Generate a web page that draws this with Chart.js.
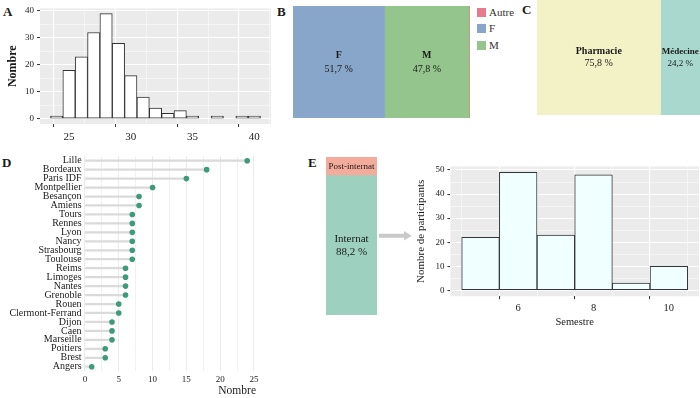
<!DOCTYPE html>
<html>
<head>
<meta charset="utf-8">
<script src="https://cdn.jsdelivr.net/npm/chart.js@4.4.1/dist/chart.umd.min.js"></script>
<style>
  body { margin: 0; background: #fff; width: 700px; height: 398px; position: relative; overflow: hidden;
         font-family: "Liberation Serif", "Times New Roman", serif; color: #1a1a1a; }
  canvas, .box { position: absolute; }
  .tag { position: absolute; font-weight: bold; font-size: 13px; line-height: 1; }
  .leg { position: absolute; left: 477px; font-size: 11px; font-weight: 400; line-height: 9px; color: #333; }
  .leg i { display: inline-block; width: 9px; height: 9px; vertical-align: top; margin-right: 3px; }
</style>
</head>
<body>
<div class="tag" style="left:3px;top:5px">A</div>
<div class="tag" style="left:277px;top:5px">B</div>
<div class="tag" style="left:522px;top:3px">C</div>
<div class="tag" style="left:2px;top:156px">D</div>
<div class="tag" style="left:308px;top:156px">E</div>

<canvas id="cA" width="275" height="142" style="left:0;top:0"></canvas>
<canvas id="cB" width="177" height="112" style="left:293px;top:6px"></canvas>
<div id="legB"></div>
<canvas id="cC" width="163" height="115" style="left:537px;top:0"></canvas>
<canvas id="cD" width="270" height="253" style="left:0;top:145px"></canvas>
<canvas id="cE1" width="51" height="158" style="left:326px;top:157px"></canvas>
<svg class="box" style="left:378px;top:229px" width="36" height="14">
  <path d="M1 4.7 H26 V2 L33.7 6.7 L26 11.4 V8.7 H1 Z" fill="#c9c9c9"/>
</svg>
<canvas id="cE2" width="285" height="182" style="left:415px;top:150px"></canvas>

<script>
// A : âge
const ageBins = [24, 25, 26, 27, 28, 29, 30, 31, 32, 33, 34, 35, 36, 37, 38, 39, 40];
const ageCounts = [1, 18, 23, 32, 39, 28, 16, 8, 4, 2, 3, 1, 0, 1, 0, 1, 1];
// B : sexe
const sexLabels = ['F', 'M', 'Autre'];
const sexPct = [51.7, 47.8, 0.5];
const sexColors = ['#87a6c9', '#93c58c', '#e87a8b'];
const sexLegend = ['Autre', 'F', 'M'];
// C : filière
const filiereLabels = ['Pharmacie', 'Médecine'];
const filierePct = [75.8, 24.2];
const filiereColors = ['#f3f1c6', '#a8d8ce'];
// D : villes
const villes = ['Lille', 'Bordeaux', 'Paris IDF', 'Montpellier', 'Besançon', 'Amiens', 'Tours', 'Rennes',
  'Lyon', 'Nancy', 'Strasbourg', 'Toulouse', 'Reims', 'Limoges', 'Nantes', 'Grenoble', 'Rouen',
  'Clermont-Ferrand', 'Dijon', 'Caen', 'Marseille', 'Poitiers', 'Brest', 'Angers'];
const villeCounts = [24, 18, 15, 10, 8, 8, 7, 7, 7, 7, 7, 7, 6, 6, 6, 6, 5, 5, 4, 4, 4, 3, 3, 1];
// E : statut et semestre
const statutLabels = ['Internat', 'Post-internat'];
const statutPct = [88.2, 11.8];
const statutColors = ['#9dd0bf', '#f3ac9b'];
const semestres = [5, 6, 7, 8, 9, 10];
const semestreCounts = [22, 49, 23, 48, 3, 10];

const serif = '"Liberation Serif", "Times New Roman", serif';
Chart.defaults.font.family = serif;
Chart.defaults.color = '#222';
Chart.defaults.animation = false;
Chart.defaults.plugins.legend.display = false;
Chart.defaults.plugins.tooltip.enabled = false;

const fmt = v => v.toFixed(1).replace('.', ',') + ' %';
const tv = c => (c.tick ? c.tick.value : NaN);

// fond gris du panneau
const panelBg = {
  id: 'panelBg',
  beforeDraw(chart, args, opts) {
    if (!opts.color) return;
    const { ctx, chartArea: a } = chart;
    ctx.save();
    ctx.fillStyle = opts.color;
    ctx.fillRect(a.left, a.top, a.right - a.left, a.bottom - a.top);
    ctx.restore();
  }
};

// texte centré dans les rectangles
const boxText = {
  id: 'boxText',
  afterDatasetsDraw(chart) {
    const ctx = chart.ctx;
    chart.data.datasets.forEach((ds, i) => {
      if (!ds.lines) return;
      const p = chart.getDatasetMeta(i).data[0].getCenterPoint();
      ctx.save();
      ctx.fillStyle = '#1a1a1a';
      ctx.textAlign = 'center';
      ctx.textBaseline = 'middle';
      ds.lines.forEach((t, k) => {
        ctx.font = (k === 0 && ds.bold ? 'bold ' : '') + ds.size + 'px ' + serif;
        ctx.fillText(t, p.x, p.y + (k - (ds.lines.length - 1) / 2) * ds.gap);
      });
      ctx.restore();
    });
  }
};
Chart.register(panelBg, boxText);

function ggGrid(isMajor) {
  return {
    color: '#fff',
    lineWidth: c => isMajor(tv(c)) ? 1.1 : 0.5,
    tickLength: 3,
    tickColor: c => isMajor(tv(c)) ? '#333' : 'rgba(0,0,0,0)',
    tickWidth: 1
  };
}

// A
new Chart(document.getElementById('cA'), {
  type: 'bar',
  data: {
    datasets: [{
      data: ageBins.map((x, i) => ({ x: x, y: ageCounts[i] })),
      backgroundColor: '#fff', borderColor: '#333', borderWidth: 1, borderSkipped: false,
      barPercentage: 1, categoryPercentage: 1
    }]
  },
  options: {
    responsive: false,
    layout: { padding: { top: 5, right: 4, left: 6, bottom: 0 } },
    plugins: { panelBg: { color: '#ebebeb' } },
    scales: {
      x: {
        type: 'linear', min: 22.65, max: 41.35, offset: false,
        ticks: { stepSize: 2.5, includeBounds: false, autoSkip: false, maxRotation: 0, padding: 4,
          font: { size: 11 }, callback: v => v % 5 === 0 ? v : '' },
        grid: ggGrid(v => v % 5 === 0), border: { display: false },
        afterFit: s => { s.height = 18; }
      },
      y: {
        min: -1.95, max: 40.95,
        ticks: { stepSize: 5, includeBounds: false, autoSkip: false, padding: 3,
          font: { size: 9 }, callback: v => v % 10 === 0 ? v : '' },
        grid: ggGrid(v => v % 10 === 0), border: { display: false },
        title: { display: true, text: 'Nombre', font: { size: 12, weight: 'bold' }, padding: 0, color: '#1a1a1a' },
        afterFit: s => { s.width = 34; }
      }
    }
  }
});

// B et C : rectangles empilés
function boxChart(id, labels, values, colors, size, gap, bold) {
  new Chart(document.getElementById(id), {
    type: 'bar',
    data: {
      labels: [''],
      datasets: labels.map((l, i) => ({
        label: l, data: [values[i]], backgroundColor: colors[i],
        barPercentage: 1, categoryPercentage: 1,
        lines: values[i] > 2 ? [l, fmt(values[i])] : null,
        size: Array.isArray(size) ? size[i] : size, gap: gap, bold: bold
      }))
    },
    options: {
      indexAxis: 'y', responsive: false, layout: { padding: 0 },
      scales: {
        x: { stacked: true, min: 0, max: 100, display: false },
        y: { stacked: true, display: false }
      }
    }
  });
}
boxChart('cB', sexLabels, sexPct, sexColors, 10, 14, true);
boxChart('cC', filiereLabels, filierePct, filiereColors, [10, 9], 12, true);

const leg = document.getElementById('legB');
sexLegend.forEach((l, k) => {
  const d = document.createElement('div');
  d.className = 'leg';
  d.style.top = (7.5 + k * 16.5) + 'px';
  d.innerHTML = `<i style="background:${sexColors[sexLabels.indexOf(l)]}"></i>${l}`;
  leg.appendChild(d);
});

// D : villes
new Chart(document.getElementById('cD'), {
  type: 'bar',
  data: {
    labels: villes,
    datasets: [
      { type: 'line', indexAxis: 'y', data: villeCounts, showLine: false, pointRadius: 2.8,
        pointBackgroundColor: '#3d9a7b', pointBorderWidth: 0, order: 0 },
      { type: 'bar', data: villeCounts, backgroundColor: '#dadada', barThickness: 1.6, order: 1 }
    ]
  },
  options: {
    indexAxis: 'y', responsive: false,
    layout: { padding: { top: 11.2, right: 14, left: 0, bottom: 0 } },
    scales: {
      x: {
        type: 'linear', min: -0.2, max: 25.3,
        ticks: { stepSize: 2.5, includeBounds: false, autoSkip: false, maxRotation: 0, padding: 3,
          font: { size: 9 }, callback: v => v % 5 === 0 ? v : '' },
        grid: { color: '#ebebeb', lineWidth: c => tv(c) % 5 === 0 ? 1 : 0.7, drawTicks: false },
        border: { display: false },
        title: { display: true, text: 'Nombre', align: 'end', font: { size: 11.5 }, padding: 0, color: '#1a1a1a' },
        afterFit: s => { s.height = 26.8; }
      },
      y: {
        offset: true,
        ticks: { autoSkip: false, padding: 2, font: { size: 10 }, color: '#1a1a1a' },
        grid: { display: false, drawTicks: false }, border: { display: false },
        afterFit: s => { s.width = 83.6; }
      }
    }
  }
});

// E : statut
new Chart(document.getElementById('cE1'), {
  type: 'bar',
  data: {
    labels: [''],
    datasets: statutLabels.map((l, i) => ({
      label: l, data: [statutPct[i]], backgroundColor: statutColors[i],
      barPercentage: 1, categoryPercentage: 1,
      lines: i === 0 ? [l, fmt(statutPct[i])] : [l],
      size: i === 0 ? 11 : 9, gap: 13, bold: false
    }))
  },
  options: {
    responsive: false, layout: { padding: 0 },
    scales: {
      x: { stacked: true, display: false },
      y: { stacked: true, min: 0, max: 100, display: false }
    }
  }
});

// E : semestre
new Chart(document.getElementById('cE2'), {
  type: 'bar',
  data: {
    datasets: [{
      data: semestres.map((x, i) => ({ x: x, y: semestreCounts[i] })),
      backgroundColor: '#f0ffff', borderColor: '#333', borderWidth: 1, borderSkipped: false,
      barPercentage: 1, categoryPercentage: 1
    }]
  },
  options: {
    responsive: false,
    layout: { padding: { top: 16.5, right: 1, left: 0, bottom: 0 } },
    plugins: { panelBg: { color: '#ebebeb' } },
    scales: {
      x: {
        type: 'linear', min: 4.2, max: 10.8, offset: false,
        ticks: { stepSize: 1, includeBounds: false, autoSkip: false, maxRotation: 0, padding: 3,
          font: { size: 10.5 }, callback: v => v % 2 === 0 ? v : '' },
        grid: ggGrid(v => v % 2 === 0), border: { display: false },
        title: { display: true, text: 'Semestre', font: { size: 10.5 }, padding: { top: 0, bottom: 3 }, color: '#1a1a1a' },
        afterFit: s => { s.height = 35.8; }
      },
      y: {
        min: -2.45, max: 51.45,
        ticks: { stepSize: 5, includeBounds: false, autoSkip: false, padding: 3,
          font: { size: 9 }, callback: v => v % 10 === 0 ? v : '' },
        grid: ggGrid(v => v % 10 === 0), border: { display: false },
        title: { display: true, text: 'Nombre de participants', font: { size: 11 }, padding: 0, color: '#1a1a1a' },
        afterFit: s => { s.width = 35.4; }
      }
    }
  }
});
</script>
</body>
</html>
